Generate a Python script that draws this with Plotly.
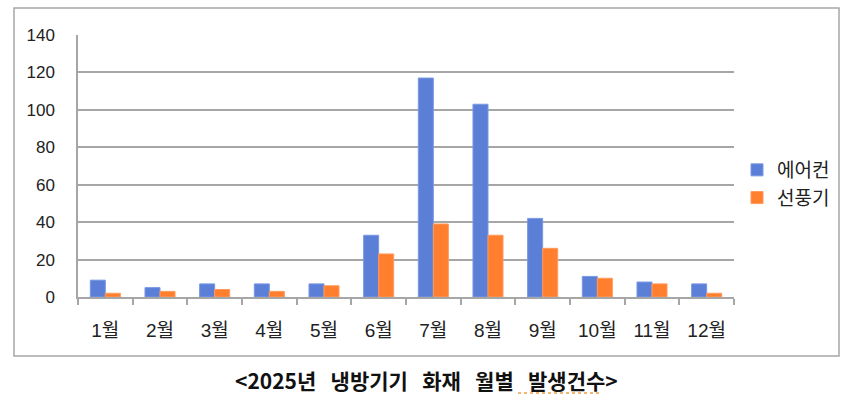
import plotly.graph_objects as go

months = ["1월", "2월", "3월", "4월", "5월", "6월", "7월", "8월", "9월", "10월", "11월", "12월"]
aircon = [9, 5, 7, 7, 7, 33, 117, 103, 42, 11, 8, 7]
fan = [2, 3, 4, 3, 6, 23, 39, 33, 26, 10, 7, 2]
series_names = ["에어컨", "선풍기"]
y_ticks = [0, 20, 40, 60, 80, 100, 120, 140]
title_text = "<2025년 냉방기기 화재 월별 발생건수>"

FONT = "Liberation Sans, Arial, Noto Sans CJK KR, sans-serif"
GRID = "#A6A6A6"

fig = go.Figure()
fig.add_trace(go.Bar(x=months, y=aircon, name=series_names[0],
                     marker=dict(color="#5B7FD7", line=dict(color="#7A98E3", width=1))))
fig.add_trace(go.Bar(x=months, y=fan, name=series_names[1],
                     marker=dict(color="#FF7F2E", line=dict(color="#FF9A5A", width=1))))

# plot area pixel geometry: left 78, right 734, top 35, bottom 297
L, R, T, B = 78, 734, 35, 297
W, H = R - L, B - T
def px(x):
    return (x - L) / W
def py(y):
    return (B - y) / H

title_html = title_text.replace("<", "&lt;").replace(">", "&gt;").replace(" ", "\u00a0" * 3)

fig.update_layout(
    width=850, height=400,
    margin=dict(l=L, r=850 - R, t=T, b=400 - B),
    paper_bgcolor="white", plot_bgcolor="white",
    barmode="group", bargap=0.45, bargroupgap=0,
    font=dict(family=FONT, size=16, color="#222222"),
    showlegend=True,
    legend=dict(x=px(737), y=py(184), xanchor="left", yanchor="middle",
                font=dict(family=FONT, size=19, color="#222222"),
                itemwidth=30, tracegroupgap=0, bgcolor="rgba(0,0,0,0)"),
    xaxis=dict(showgrid=False, showline=True, linecolor=GRID, linewidth=1.5,
               ticks="outside", tickson="boundaries", ticklen=6, tickcolor=GRID, tickwidth=1.5,
               ticklabelstandoff=15,
               tickfont=dict(family=FONT, size=19, color="#222222")),
    yaxis=dict(range=[0, 140], tickvals=y_ticks, showgrid=True, gridcolor=GRID, gridwidth=1.5,
               showline=True, linecolor=GRID, linewidth=1.5, zeroline=False,
               ticks="", ticklabelstandoff=18,
               tickfont=dict(family=FONT, size=17, color="#222222")),
    shapes=[
        dict(type="rect", xref="paper", yref="paper",
             x0=px(14), x1=px(839), y0=py(356), y1=py(8),
             line=dict(color="#A6A6A6", width=1.5), fillcolor="rgba(0,0,0,0)", layer="below"),
        dict(type="line", xref="paper", yref="paper",
             x0=px(518), x1=px(602), y0=py(393), y1=py(393),
             line=dict(color="#F0A040", width=1.5, dash="dot")),
    ],
    annotations=[
        dict(text="<b>" + title_html + "</b>",
             xref="paper", yref="paper", x=px(426), y=py(380),
             xanchor="center", yanchor="middle", showarrow=False,
             font=dict(family="Noto Sans CJK KR, sans-serif", size=21, color="#111111")),
    ],
)

fig.write_html("out.html")
